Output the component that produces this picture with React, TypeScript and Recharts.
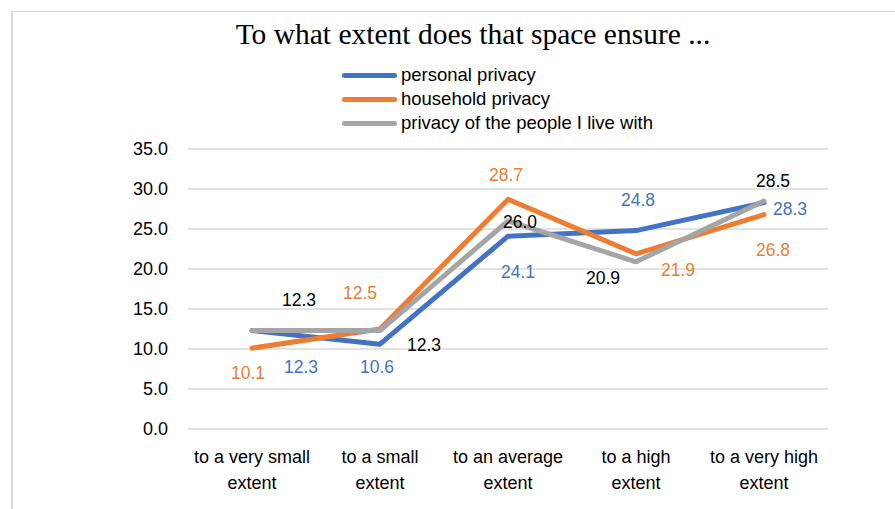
import { LineChart, Line, XAxis, YAxis, CartesianGrid, LabelList } from 'recharts';

const categories = [
  'to a very small extent',
  'to a small extent',
  'to an average extent',
  'to a high extent',
  'to a very high extent',
];
const personalPrivacy = [12.3, 10.6, 24.1, 24.8, 28.3];
const householdPrivacy = [10.1, 12.5, 28.7, 21.9, 26.8];
const peopleILiveWith = [12.3, 12.3, 26.0, 20.9, 28.5];
const yTicks = [0, 5, 10, 15, 20, 25, 30, 35];

// where Excel put each data label, relative to its point (dx, dy of label centre)
const personalOffsets = [[49, 36], [-3, 23], [10, 36], [2, -31], [26, 6]];
const householdOffsets = [[-4, 25], [-20, -36], [-2, -24], [42, 16], [9, 35]];
const peopleOffsets = [[47, -31], [44, 14], [12, 1], [-33, 16], [9, -20]];

const data = categories.map((name, i) => ({
  name,
  personal: personalPrivacy[i],
  household: householdPrivacy[i],
  people: peopleILiveWith[i],
}));

const series = [
  { key: 'personal', name: 'personal privacy', color: '#4472C4', labelColor: '#4472C4', offsets: personalOffsets },
  { key: 'household', name: 'household privacy', color: '#ED7D31', labelColor: '#ED7D31', offsets: householdOffsets },
  { key: 'people', name: 'privacy of the people I live with', color: '#A5A5A5', labelColor: '#000000', offsets: peopleOffsets },
];

const FONT = '"Liberation Sans", Arial, sans-serif';

const CategoryTick = (props: any) => {
  const { x, y, payload } = props;
  const text: string = payload.value;
  const first = text.replace(/ extent$/, '');
  return (
    <text x={x} y={y} textAnchor="middle" fill="#000" fontSize={18} fontFamily={FONT}>
      <tspan x={x} dy={26}>{first}</tspan>
      <tspan x={x} dy={26}>extent</tspan>
    </text>
  );
};

const makeLabel = (offsets: number[][], color: string) => (props: any) => {
  const { x, y, value, index } = props;
  const [dx, dy] = offsets[index] || [0, 0];
  return (
    <text
      x={x + dx}
      y={y + dy}
      textAnchor="middle"
      dominantBaseline="central"
      fill={color}
      fontSize={17.5}
      fontFamily={FONT}
    >
      {Number(value).toFixed(1)}
    </text>
  );
};

export default function App() {
  return (
    <div style={{ position: 'absolute', left: 0, top: 0, width: 895, height: 509, background: '#fff', overflow: 'hidden' }}>
      <div
        style={{
          position: 'absolute',
          left: 11,
          top: 11,
          width: 900,
          height: 520,
          borderTop: '1px solid #d9d9d9',
          borderLeft: '2px solid #d9d9d9',
        }}
      />
      <div
        style={{
          position: 'absolute',
          left: 0,
          top: 18,
          width: 946,
          textAlign: 'center',
          fontFamily: '"Liberation Serif", serif',
          fontSize: 29.5,
          color: '#000',
          whiteSpace: 'nowrap',
        }}
      >
        To what extent does that space ensure ...
      </div>
      <div style={{ position: 'absolute', left: 342, top: 63 }}>
        {series.map((s) => (
          <div key={s.key} style={{ display: 'flex', alignItems: 'center', height: 24, fontFamily: FONT, fontSize: 18.5 }}>
            <div style={{ width: 55, height: 5, borderRadius: 3, background: s.color, marginRight: 4 }} />
            <span>{s.name}</span>
          </div>
        ))}
      </div>
      <div style={{ position: 'absolute', left: 0, top: 0 }}>
        <LineChart width={895} height={509} data={data} margin={{ top: 149, right: 67, bottom: 0, left: 0 }}>
          <CartesianGrid vertical={false} stroke="#d9d9d9" strokeWidth={1.5} />
          <XAxis
            dataKey="name"
            axisLine={false}
            tickLine={false}
            height={80}
            padding={{ left: 64, right: 64 }}
            interval={0}
            tick={<CategoryTick />}
          />
          <YAxis
            width={188}
            domain={[0, 35]}
            ticks={yTicks}
            axisLine={false}
            tickLine={false}
            tickSize={0}
            tickMargin={20}
            tickFormatter={(v: number) => v.toFixed(1)}
            tick={{ fill: '#000', fontSize: 18, fontFamily: FONT }}
          />
          {series.map((s) => (
            <Line
              key={s.key}
              type="linear"
              dataKey={s.key}
              name={s.name}
              stroke={s.color}
              strokeWidth={5}
              strokeLinecap="round"
              strokeLinejoin="round"
              dot={false}
              activeDot={false}
              isAnimationActive={false}
            >
              <LabelList dataKey={s.key} content={makeLabel(s.offsets, s.labelColor)} />
            </Line>
          ))}
        </LineChart>
      </div>
    </div>
  );
}
